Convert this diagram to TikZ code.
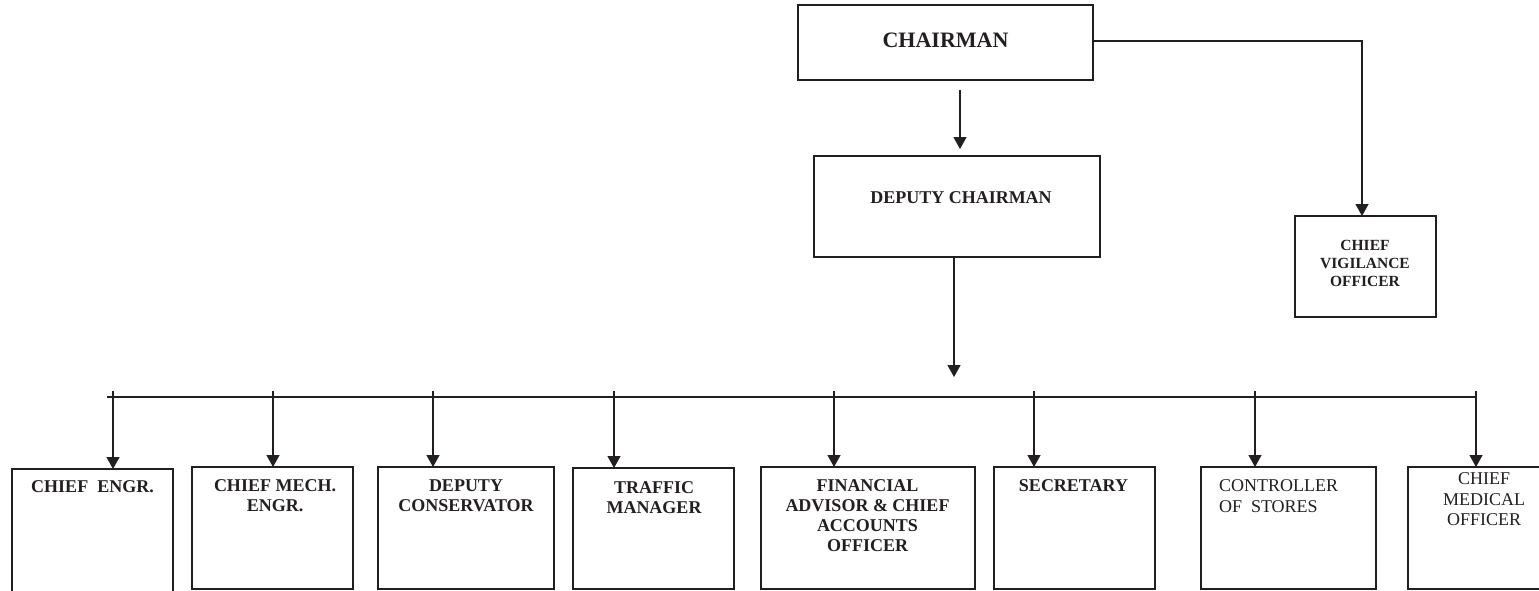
\documentclass[tikz,border=0pt]{standalone}
\usepackage{fontspec}
\setmainfont{Liberation Serif}
\usetikzlibrary{arrows.meta}
\definecolor{ink}{RGB}{35,31,32}
\begin{document}
\begin{tikzpicture}[x=1pt,y=-1pt,
  box/.style={draw=ink, line width=1.3pt, inner sep=0pt, outer sep=0pt, anchor=north west},
  lbl/.style={text=ink, inner sep=0pt, outer sep=0pt, anchor=north, align=center, font=\bfseries\fontsize{18}{20}\selectfont},
  lblreg/.style={lbl, font=\fontsize{18}{20.5}\selectfont},
  conn/.style={draw=ink, line width=1.3pt},
  arr/.style={conn, -{Triangle[width=13pt,length=12pt]}}]
\path[use as bounding box, clip] (0,0) rectangle (1539,590);
\fill[white] (0,0) rectangle (1539,590);

% top boxes
\node[box, minimum width=295pt, minimum height=75pt] (chair) at (798,5) {};
\node[box, minimum width=286pt, minimum height=101pt] (dc) at (814,156) {};
\node[box, minimum width=141pt, minimum height=101pt] (cvo) at (1295,216) {};

\node[lbl, font=\bfseries\fontsize{22}{24}\selectfont] (chairT) at (945.5,33) {CHAIRMAN};
\node[lbl] (dcT) at (961,192) {DEPUTY CHAIRMAN};
\node[lbl, font=\bfseries\fontsize{15.5}{18}\selectfont] (cvoT) at (1365,240) {CHIEF\\VIGILANCE\\OFFICER};

% bottom boxes
\node[box, minimum width=161pt, minimum height=131pt] (b1) at (12,469) {};
\node[box, minimum width=161pt, minimum height=122pt] (b2) at (192,467) {};
\node[box, minimum width=176pt, minimum height=122pt] (b3) at (378,467) {};
\node[box, minimum width=161pt, minimum height=121pt] (b4) at (573,468) {};
\node[box, minimum width=214pt, minimum height=122pt] (b5) at (761,467) {};
\node[box, minimum width=161pt, minimum height=122pt] (b6) at (994,467) {};
\node[box, minimum width=175pt, minimum height=122pt] (b7) at (1201,467) {};
\node[box, minimum width=152pt, minimum height=122pt] (b8) at (1408,467) {};

\node[lbl] (l1) at (92.5,481) {CHIEF\ \ ENGR.};
\node[lbl] (l2) at (275,480) {CHIEF MECH.\\ENGR.};
\node[lbl] (l3) at (466,480) {DEPUTY\\CONSERVATOR};
\node[lbl] (l4) at (654,481.5) {TRAFFIC\\MANAGER};
\node[lbl] (l5) at (867.5,480) {FINANCIAL\\ADVISOR \& CHIEF\\ACCOUNTS\\OFFICER};
\node[lbl] (l6) at (1073.5,480) {SECRETARY};
\node[lblreg, anchor=north west, align=left] (l7) at (1219,480) {CONTROLLER\\OF\ \ STORES};
\node[lblreg] (l8) at (1484,473) {CHIEF\\MEDICAL\\OFFICER};

% connectors at top
\draw[arr, shorten <=10pt, shorten >=7pt] ([xshift=14.5pt]chair.south) -- ([xshift=14.5pt]chair.south |- dc.north);
\draw[arr] ([yshift=1.5pt]chair.east) -| ([xshift=-3.5pt]cvo.north);

% bus
\coordinate (busL) at (107,397);
\coordinate (busR) at (1476,397);
\draw[arr, shorten >=20pt] ([xshift=-3pt]dc.south) -- ([xshift=-3pt]dc.south |- busL);
\draw[conn] (busL) -- (busR);

\coordinate (t1) at (113,391);
\coordinate (t2) at (273,391);
\coordinate (t3) at (433,391);
\coordinate (t4) at (614,391);
\coordinate (t5) at (834,391);
\coordinate (t6) at (1034,391);
\coordinate (t7) at (1255,391);
\coordinate (t8) at (1476,391);

\draw[arr] (t1) -- (t1 |- b1.north);
\draw[arr] (t2) -- (t2 |- b2.north);
\draw[arr] (t3) -- (t3 |- b3.north);
\draw[arr] (t4) -- (t4 |- b4.north);
\draw[arr] (t5) -- (t5 |- b5.north);
\draw[arr] (t6) -- (t6 |- b6.north);
\draw[arr] (t7) -- (t7 |- b7.north);
\draw[arr] (t8) -- (t8 |- b8.north);
\end{tikzpicture}
\end{document}
